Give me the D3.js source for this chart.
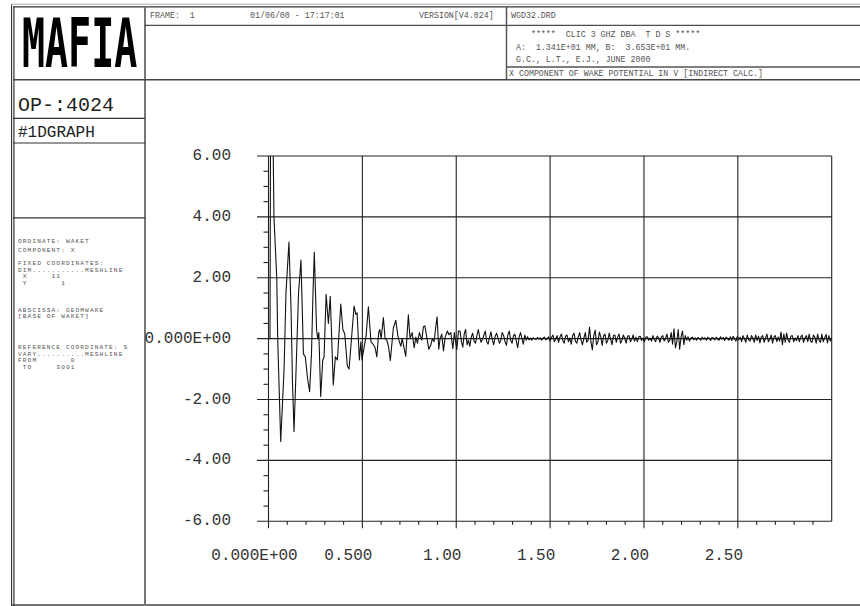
<!DOCTYPE html>
<html>
<head>
<meta charset="utf-8">
<script src="https://cdn.jsdelivr.net/npm/d3@7"></script>
<style>
  html, body { margin: 0; padding: 0; background: #fff; }
  svg { display: block; }
  text { font-family: "Liberation Mono", "Courier New", monospace; white-space: pre; }
</style>
</head>
<body>
<svg id="chart" width="860" height="606"></svg>
<script>
// ---- Wake potential, X component (V) versus s ----
// Leading part of the wake, sampled at its turning points
const headS = [0.000,0.008,0.012,0.018,0.029,0.044,0.049,0.065,0.083,0.093,0.109,0.120,0.128,0.136,0.147,0.160,0.173,
  0.186,0.196,0.208,0.219,0.229,0.237,0.244,0.256,0.262,0.268,0.278,0.289,0.296,0.307,0.319,0.329,0.345,0.356,0.367,
  0.385,0.396,0.406,0.420,0.429,0.456,0.465,0.472,0.484,0.492,0.498,0.520,0.532,0.546,0.559,0.568,0.577,0.587,0.593,
  0.600,0.612,0.621,0.630,0.639,0.649,0.665,0.678,0.689,0.697,0.705,0.712,0.722,0.731,0.745,0.754,0.765,0.776,0.785,
  0.793,0.804,0.817,0.825,0.833,0.843,0.854,0.865,0.873,0.882,0.891,0.898,0.907,0.914,0.923,0.932,0.941,0.953,0.961,
  0.971,0.982,0.990,1.003,1.012];
const headW = [0.00,0.00,10.0,10.0,4.00,2.00,0.00,-3.38,-1.00,1.50,3.17,1.00,-1.50,-3.05,-1.00,1.50,2.58,
  -0.50,-0.60,-1.30,-1.74,-0.50,1.50,2.84,0.30,0.00,0.20,-1.90,-0.70,-0.60,1.46,0.50,1.39,-1.52,-0.60,-0.70,
  1.14,0.30,0.16,-0.90,-1.00,1.07,0.80,0.85,-0.70,-0.10,-0.70,0.10,1.05,-0.10,-0.20,-0.30,-0.60,0.20,0.30,
  0.00,0.69,0.00,-0.05,-0.25,-0.72,0.35,0.60,0.10,-0.10,-0.25,0.00,-0.30,-0.58,0.78,0.00,0.20,-0.30,0.05,
  -0.15,0.20,-0.05,0.39,0.42,0.06,-0.35,-0.20,0.00,-0.10,0.39,0.72,-0.35,0.00,0.15,-0.40,0.05,0.25,0.13,
  0.20,-0.33,0.20,-0.36,0.25];

// Trailing part of the wake: uniform mesh from tailStart with spacing tailStep
const tailStart = 1.02;
const tailStep = 0.0075;
const tailW = [
  0.25,-0.10,-0.28,0.15,0.30,-0.20,-0.05,-0.25,
  0.05,0.18,-0.08,-0.15,0.10,0.30,0.05,-0.12,
  -0.02,0.12,0.25,-0.10,-0.18,0.05,0.22,-0.05,
  -0.20,0.08,0.18,0.02,-0.15,-0.05,0.20,0.10,
  -0.10,-0.22,0.12,0.25,-0.05,-0.15,0.10,0.15,
  -0.08,-0.30,0.05,0.20,0.00,-0.18,0.12,-0.05,
  0.06,-0.04,0.02,-0.05,0.03,0.00,-0.03,0.04,
  -0.02,0.03,-0.05,0.02,0.05,-0.04,0.00,0.06,
  -0.08,0.04,0.12,-0.10,-0.02,0.10,-0.12,0.05,
  0.15,-0.05,-0.15,0.08,0.12,-0.10,0.02,-0.18,
  0.10,0.18,-0.08,-0.15,0.05,0.20,-0.05,-0.20,
  0.02,0.20,-0.12,-0.05,0.37,-0.10,-0.37,0.10,
  0.28,-0.20,-0.10,0.22,0.05,-0.22,0.10,0.15,
  -0.15,-0.05,0.18,-0.02,-0.20,0.10,0.12,-0.12,
  0.05,0.15,-0.15,-0.05,0.12,0.02,-0.15,0.08,
  0.10,-0.10,-0.02,0.12,-0.08,0.05,-0.10,0.06,
  0.08,-0.06,0.02,-0.10,0.05,0.06,-0.05,0.02,
  -0.08,0.10,-0.02,-0.10,0.08,0.03,-0.12,0.06,
  0.10,-0.08,0.00,0.15,-0.12,-0.05,0.20,-0.18,
  0.32,-0.30,-0.10,0.30,-0.35,0.05,0.25,-0.20,
  0.10,-0.05,0.06,-0.08,0.02,0.05,-0.04,0.03,
  -0.05,0.04,0.00,-0.05,0.05,-0.02,0.03,-0.05,
  0.05,0.00,-0.06,0.04,0.02,-0.04,0.05,-0.02,
  -0.05,0.06,-0.02,0.04,-0.06,0.05,0.00,-0.05,
  0.06,-0.06,0.08,-0.02,-0.08,0.08,-0.04,0.05,
  -0.10,0.10,0.00,-0.12,0.12,-0.04,-0.08,0.10,
  0.02,-0.12,0.12,-0.06,0.08,-0.14,0.06,0.10,
  -0.12,0.02,0.15,-0.10,-0.03,0.12,-0.15,0.05,
  0.10,-0.10,0.05,-0.08,0.22,-0.20,0.15,-0.12,
  0.18,-0.05,-0.12,0.08,0.10,-0.10,0.02,-0.06,
  0.10,-0.10,0.05,0.12,-0.12,0.02,0.10,-0.10,
  0.15,-0.08,-0.12,0.12,0.05,-0.15,0.15,-0.05,
  -0.12,0.15,-0.10,0.02,0.14,-0.14,0.10,-0.08,
  0.05];

// Axis ticks and labels
const xTicks = [0, 0.5, 1.0, 1.5, 2.0, 2.5];
const xTickLabels = ["0.000E+00", "0.500", "1.00", "1.50", "2.00", "2.50"];
const yTicks = [-6, -4, -2, 0, 2, 4, 6];
const yTickLabels = ["-6.00", "-4.00", "-2.00", "0.000E+00", "2.00", "4.00", "6.00"];
const xDomain = [0, 3.0];
const yDomain = [-6, 6];

// Header / info block texts
const headerTop = [
  { t: "FRAME:  1", x: 150 },
  { t: "01/06/00 - 17:17:01", x: 250 },
  { t: "VERSION[V4.024]", x: 419 },
  { t: "WGD32.DRD", x: 511 }
];
const titleLines = [
  "    *****  CLIC 3 GHZ DBA  T D S *****",
  " A:  1.341E+01 MM, B:  3.653E+01 MM.",
  " G.C., L.T., E.J., JUNE 2000"
];
const quantityLine = "X COMPONENT OF WAKE POTENTIAL IN V [INDIRECT CALC.]";
const infoLines = [
  ["ORDINATE: WAKET", 242.5],
  ["COMPONENT: X", 251.5],
  ["FIXED COORDINATES:", 265],
  ["DIM...........MESHLINE", 271.7],
  [" X     11", 278.3],
  [" Y       1", 285],
  ["ABSCISSA: GEOMWAKE", 311.7],
  ["[BASE OF WAKET]", 318.3],
  ["REFERENCE COORDINATE: S", 349],
  ["VARY..........MESHLINE", 355.7],
  ["FROM       0", 362.3],
  [" TO     3001", 369]
];

// ---- build the series ----
const series = headS.map((s, i) => ({ s, w: headW[i] }))
  .concat(tailW.map((w, i) => ({ s: tailStart + i * tailStep, w })));

const svg = d3.select("#chart");

// plot area
const X0 = 268.5, X1 = 831.7, Y0 = 521.3, Y1 = 156;
const x = d3.scaleLinear().domain(xDomain).range([X0, X1]);
const y = d3.scaleLinear().domain(yDomain).range([Y0, Y1]);

// ---- page frame ----
const frame = svg.append("g").attr("fill", "none");
const line = (x1, y1, x2, y2, col, w) =>
  frame.append("line").attr("x1", x1).attr("y1", y1).attr("x2", x2).attr("y2", y2)
    .attr("stroke", col).attr("stroke-width", w);

line(11.5, 4, 11.5, 606, "#333", 1);
line(13.8, 6.5, 13.8, 606, "#777", 2);
line(11, 4.2, 860, 4.2, "#aaa", 1);
line(13, 6.8, 860, 6.8, "#333", 1.2);
line(11, 605, 860, 605, "#444", 1.5);
line(145, 6.5, 145, 606, "#777", 2);
line(145, 25.3, 860, 25.3, "#222", 1);
line(506.5, 6.5, 506.5, 80, "#555", 1.5);
line(506.5, 67, 860, 67, "#555", 1.5);
line(13, 79.8, 860, 79.8, "#444", 1.5);
line(13, 118.3, 145, 118.3, "#333", 1.2);
line(13, 143, 145, 143, "#333", 1.2);
line(13, 217.8, 145, 217.8, "#333", 1.2);

// ---- logo and identification ----
// tall narrow logo: set at the width it needs, then stretched vertically
const logoSize = 38.3;
svg.append("text")
  .attr("transform", "translate(22,67) scale(1,1.78)")
  .attr("x", 0).attr("y", 0)
  .attr("font-weight", "bold").attr("font-size", logoSize)
  .attr("fill", "#000").style("font-family", "'DejaVu Sans Mono', monospace")
  .text("MAFIA");

svg.append("text").attr("x", 18).attr("y", 111).attr("font-size", 20).attr("fill", "#222").text("OP-:4024");
svg.append("text").attr("x", 18).attr("y", 137).attr("font-size", 16).attr("fill", "#222").text("#1DGRAPH");

// header row
svg.append("g").selectAll("text").data(headerTop).join("text")
  .attr("x", d => d.x).attr("y", 18).attr("font-size", 8.3).attr("fill", "#555").text(d => d.t);

svg.append("g").selectAll("text").data(titleLines).join("text")
  .attr("x", 511).attr("y", (d, i) => 37 + i * 12.6).attr("font-size", 8.3).attr("fill", "#555").text(d => d);

svg.append("text").attr("x", 509).attr("y", 76).attr("font-size", 8.3).attr("fill", "#555").text(quantityLine);

// info block (tight line pitch, so a small face with extra tracking)
svg.append("g").selectAll("text").data(infoLines).join("text")
  .attr("x", 18).attr("y", d => d[1]).attr("font-size", 6.2).attr("letter-spacing", 1.08)
  .attr("fill", "#555").text(d => d[0]);

// ---- grid ----
const grid = svg.append("g").attr("stroke", "#222").attr("stroke-width", 1.1);
// horizontal lines at major y ticks (extend left of the axis)
grid.selectAll("line.h").data(yTicks).join("line").attr("class", "h")
  .attr("x1", 257).attr("x2", X1).attr("y1", d => y(d)).attr("y2", d => y(d));
// vertical lines at major x ticks (extend below the axis)
grid.selectAll("line.v").data(xTicks).join("line").attr("class", "v")
  .attr("x1", d => x(d)).attr("x2", d => x(d)).attr("y1", Y1).attr("y2", Y0 + 7);
// right border
grid.append("line").attr("x1", X1).attr("x2", X1).attr("y1", Y1).attr("y2", Y0);

// minor ticks
const yMinor = d3.range(-6, 6.01, 0.5).filter(v => Math.abs(v % 2) > 1e-6);
const xMinor = d3.range(0.1, 2.95, 0.1).filter(v => Math.abs((v * 10) % 5) > 1e-6);
grid.selectAll("line.ym").data(yMinor).join("line").attr("class", "ym")
  .attr("x1", X0 - 5).attr("x2", X0).attr("y1", d => y(d)).attr("y2", d => y(d));
grid.selectAll("line.xm").data(xMinor).join("line").attr("class", "xm")
  .attr("x1", d => x(d)).attr("x2", d => x(d)).attr("y1", Y0).attr("y2", Y0 + 3.5);

// tick labels
svg.append("g").selectAll("text").data(yTicks).join("text")
  .attr("x", 231).attr("y", d => y(d) + 4).attr("text-anchor", "end")
  .attr("font-size", 16).attr("fill", "#333").text((d, i) => yTickLabels[i]);
svg.append("g").selectAll("text").data(xTicks).join("text")
  .attr("x", d => x(d) - 14).attr("y", 560).attr("text-anchor", "middle")
  .attr("font-size", 16).attr("fill", "#333").text((d, i) => xTickLabels[i]);

// ---- wake curve ----
svg.append("clipPath").attr("id", "plotclip").append("rect")
  .attr("x", X0).attr("y", Y1).attr("width", X1 - X0).attr("height", Y0 - Y1);

svg.append("path").datum(series)
  .attr("clip-path", "url(#plotclip)")
  .attr("fill", "none").attr("stroke", "#111").attr("stroke-width", 1.1)
  .attr("stroke-linejoin", "round")
  .attr("d", d3.line().x(d => x(d.s)).y(d => y(d.w)));
</script>
</body>
</html>
